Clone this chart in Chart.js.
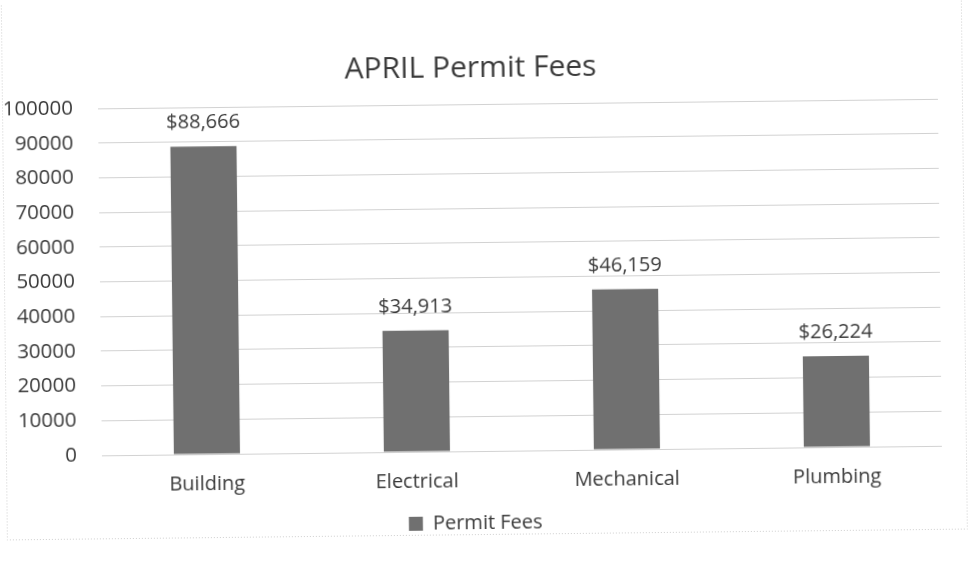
<!DOCTYPE html>
<html>
<head>
<meta charset="utf-8">
<script src="https://cdn.jsdelivr.net/npm/chart.js@4/dist/chart.umd.min.js"></script>
<style>
  html, body { margin: 0; padding: 0; background: #ffffff; }
  #wrap { width: 969px; height: 565px; position: relative; overflow: hidden; }
  canvas { display: block; transform: rotate(-0.65deg); transform-origin: 50% 50%; }
</style>
</head>
<body>
<div id="wrap"><canvas id="c" width="969" height="565"></canvas></div>
<script>
const chartTitle = "APRIL Permit Fees";
const seriesName = "Permit Fees";
const categories = ["Building", "Electrical", "Mechanical", "Plumbing"];
const permitFees = [88666, 34913, 46159, 26224];
const yMin = 0;
const yMax = 100000;
const yStep = 10000;

const FONT = "'Open Sans', 'Noto Sans', sans-serif";
const TEXT = "#3a3a3a";
const BAR = "#707070";

const dataLabels = {
  id: "dataLabels",
  afterDatasetsDraw(chart) {
    const ctx = chart.ctx;
    ctx.save();
    ctx.font = "20px " + FONT;
    ctx.fillStyle = TEXT;
    ctx.textAlign = "center";
    ctx.textBaseline = "middle";
    chart.getDatasetMeta(0).data.forEach((bar, i) => {
      const v = chart.data.datasets[0].data[i];
      ctx.fillText("$" + v.toLocaleString("en-US"), bar.x, bar.y - 24);
    });
    ctx.restore();
  }
};

const frame = {
  id: "frame",
  beforeDraw(chart) {
    const ctx = chart.ctx;
    ctx.save();
    ctx.strokeStyle = "#cfcfcf";
    ctx.lineWidth = 1;
    ctx.setLineDash([1, 2]);
    ctx.beginPath();
    ctx.moveTo(4.5, 0);
    ctx.lineTo(4.5, 534.5);
    ctx.lineTo(964.5, 534.5);
    ctx.lineTo(964.5, 0);
    ctx.stroke();
    ctx.restore();
  }
};

new Chart(document.getElementById("c"), {
  type: "bar",
  data: {
    labels: categories,
    datasets: [{
      label: seriesName,
      data: permitFees,
      backgroundColor: BAR,
      borderWidth: 0,
      barPercentage: 0.63,
      categoryPercentage: 0.5
    }]
  },
  options: {
    responsive: false,
    animation: false,
    devicePixelRatio: 1,
    layout: { padding: { top: 0, left: 6, right: 29, bottom: 22 } },
    plugins: {
      title: {
        display: true,
        text: chartTitle,
        color: TEXT,
        font: { family: FONT, size: 30, weight: "normal" },
        padding: { top: 50, bottom: 18 }
      },
      legend: {
        display: true,
        position: "bottom",
        labels: {
          color: TEXT,
          font: { family: FONT, size: 20 },
          boxWidth: 14,
          boxHeight: 14,
          padding: 10
        }
      },
      tooltip: { enabled: false }
    },
    scales: {
      x: {
        grid: { display: false },
        border: { display: false },
        ticks: {
          color: TEXT,
          font: { family: FONT, size: 20 },
          padding: 10
        },
        afterFit(scale) { scale.height = 52; }
      },
      y: {
        min: yMin,
        max: yMax,
        border: { display: false },
        grid: { color: "#d2d2d2", lineWidth: 1, drawTicks: false },
        ticks: {
          stepSize: yStep,
          color: TEXT,
          font: { family: FONT, size: 20.5 },
          padding: 25,
          callback: (v) => String(v)
        },
        afterFit(scale) { scale.width = 94; }
      }
    }
  },
  plugins: [dataLabels, frame]
});
</script>
</body>
</html>
